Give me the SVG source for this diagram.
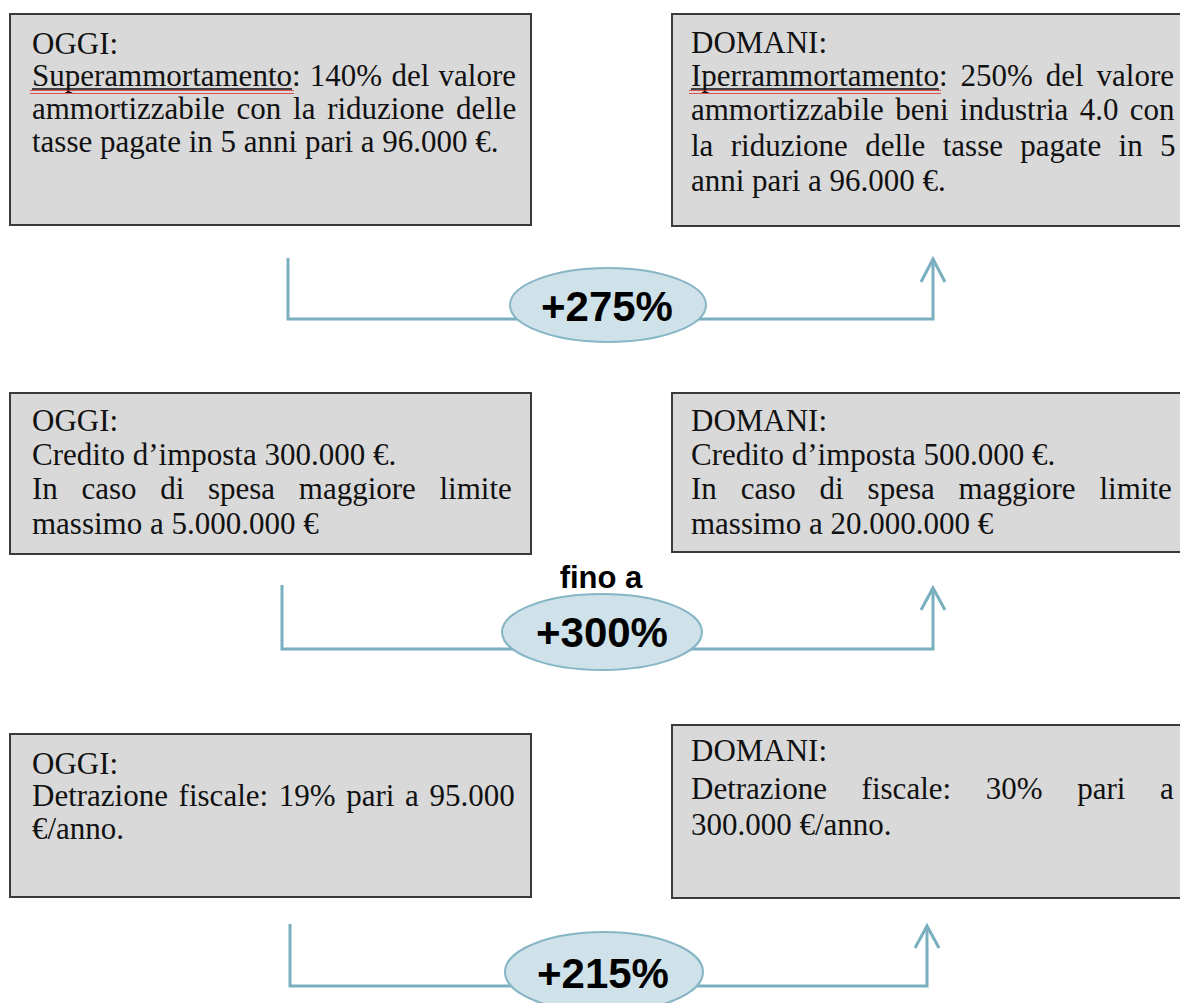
<svg xmlns="http://www.w3.org/2000/svg" width="1180" height="1003" viewBox="0 0 1180 1003">
<style>
.box{fill:#d9d9d9;stroke:#3a3a3a;stroke-width:2}
.t{font-family:"Liberation Serif","Times New Roman",serif;font-size:31px;fill:#111}
.conn{fill:none;stroke:#7aafc0;stroke-width:3;stroke-linejoin:miter}
.ell{fill:#cfe2ea;stroke:#86b6c6;stroke-width:2}
.pct{font-family:"Liberation Sans",Arial,sans-serif;font-weight:bold;font-size:42px;fill:#000;text-anchor:middle}
.fino{font-family:"Liberation Sans",Arial,sans-serif;font-weight:bold;font-size:31px;fill:#000;text-anchor:middle}
.ul{stroke:#111;stroke-width:1.3}
</style>
<defs>
<pattern id="wave" x="0" y="0" width="4" height="4" patternUnits="userSpaceOnUse">
<path d="M0,3 L1,1 L2,3 L3,1 L4,3" fill="none" stroke="#e02020" stroke-width="0.9"/>
</pattern>
</defs>
<rect width="1180" height="1003" fill="#fff"/>

<g id="connectors">
<path class="conn" d="M288,258 V319 H933 V259"/>
<path class="conn" d="M921,282 L933,259 L945,282"/>
<path class="conn" d="M282,585 V649 H933 V588"/>
<path class="conn" d="M921,610 L933,588 L945,610"/>
<path class="conn" d="M290,924 V986 H927 V926"/>
<path class="conn" d="M915,948 L927,926 L939,948"/>
</g>

<g id="oggi1">
<rect class="box" x="10" y="14" width="521" height="211"/>
<text class="t" x="32" y="54">OGGI:</text>
<text class="t" x="32" y="86" word-spacing="1.5">Superammortamento: 140% del valore</text>
<line class="ul" x1="32" y1="89" x2="292" y2="89"/>
<rect x="30" y="90" width="264" height="4" fill="url(#wave)"/>
<text class="t" x="32" y="119" word-spacing="4">ammortizzabile con la riduzione delle</text>
<text class="t" x="32" y="152">tasse pagate in 5 anni pari a 96.000 €.</text>
</g>

<g id="domani1">
<rect class="box" x="672" y="14" width="520" height="212"/>
<text class="t" x="691" y="53">DOMANI:</text>
<text class="t" x="691" y="86" word-spacing="5.2">Iperrammortamento: 250% del valore</text>
<line class="ul" x1="691" y1="89" x2="939" y2="89"/>
<rect x="689" y="90" width="252" height="4" fill="url(#wave)"/>
<text class="t" x="691" y="120" word-spacing="3.6">ammortizzabile beni industria 4.0 con</text>
<text class="t" x="691" y="156" word-spacing="9.6">la riduzione delle tasse pagate in 5</text>
<text class="t" x="691" y="191">anni pari a 96.000 €.</text>
</g>

<g id="badge1">
<ellipse class="ell" cx="608" cy="305" rx="98" ry="37"/>
<text class="pct" x="607" y="321">+275%</text>
</g>

<g id="oggi2">
<rect class="box" x="10" y="393" width="521" height="161"/>
<text class="t" x="32" y="431">OGGI:</text>
<text class="t" x="32" y="465">Credito d’imposta 300.000 €.</text>
<text class="t" x="32" y="499" word-spacing="15.9">In caso di spesa maggiore limite</text>
<text class="t" x="32" y="534">massimo a 5.000.000 €</text>
</g>

<g id="domani2">
<rect class="box" x="672" y="393" width="520" height="159"/>
<text class="t" x="691" y="431">DOMANI:</text>
<text class="t" x="691" y="465">Credito d’imposta 500.000 €.</text>
<text class="t" x="691" y="499" word-spacing="16.1">In caso di spesa maggiore limite</text>
<text class="t" x="691" y="534">massimo a 20.000.000 €</text>
</g>

<g id="badge2">
<text class="fino" x="601" y="588">fino a</text>
<ellipse class="ell" cx="602" cy="632" rx="100" ry="38"/>
<text class="pct" x="602" y="647">+300%</text>
</g>

<g id="oggi3">
<rect class="box" x="10" y="734" width="521" height="163"/>
<text class="t" x="32" y="774">OGGI:</text>
<text class="t" x="32" y="806" word-spacing="2.9">Detrazione fiscale: 19% pari a 95.000</text>
<text class="t" x="32" y="839">€/anno.</text>
</g>

<g id="domani3">
<rect class="box" x="672" y="725" width="520" height="173"/>
<text class="t" x="691" y="761">DOMANI:</text>
<text class="t" x="691" y="799" word-spacing="26.9">Detrazione fiscale: 30% pari a</text>
<text class="t" x="691" y="835">300.000 €/anno.</text>
</g>

<g id="badge3">
<ellipse class="ell" cx="604" cy="972" rx="99" ry="40"/>
<text class="pct" x="603" y="988">+215%</text>
</g>
</svg>
